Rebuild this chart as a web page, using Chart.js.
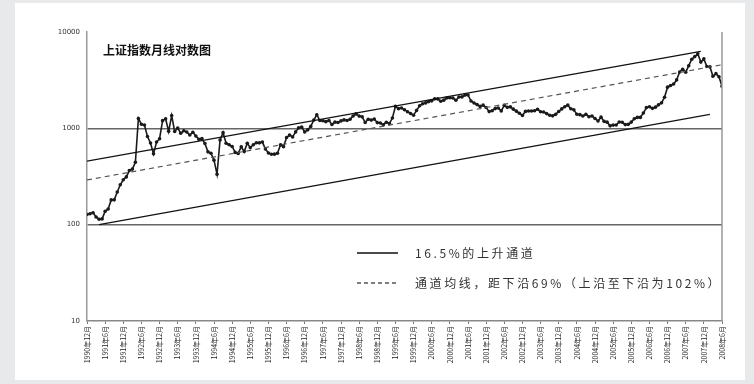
<!DOCTYPE html>
<html>
<head>
<meta charset="utf-8">
<script src="https://cdn.jsdelivr.net/npm/chart.js@4.4.0/dist/chart.umd.min.js"></script>
<style>
  html, body { margin: 0; padding: 0; background: #e8e9eb; }
  #panel { position: absolute; left: 15px; top: 3px; width: 730px; height: 377px; background: #fff; }
  canvas { display: block; }
</style>
</head>
<body>
<div id="panel"><canvas id="chart1" width="730" height="377"></canvas></div>
<script>
// 月线收盘 1990年12月 .. 2008年6月
const indexValues = [
  127.6,
  130.0, 133.0, 120.2, 113.9, 114.8, 137.6, 145.5, 180.8, 180.9, 218.6, 259.6, 292.8,
  313.2, 364.4, 377.5, 444.3, 1265.8, 1102.1, 1081.5, 822.5, 705.5, 543.6, 720.9, 780.4,
  1202.1, 1257.8, 929.9, 1358.8, 927.8, 1007.1, 890.4, 943.8, 914.5, 853.3, 911.3, 833.8,
  770.3, 782.4, 695.0, 570.3, 550.8, 467.2, 333.9, 756.8, 901.5, 701.3, 676.6, 647.9,
  562.6, 549.3, 644.5, 573.6, 700.5, 630.6, 675.1, 708.9, 706.4, 720.3, 609.6, 555.3,
  537.4, 539.3, 551.7, 675.9, 643.7, 804.4, 851.1, 813.8, 918.7, 1011.3, 1028.9, 917.0,
  964.8, 1047.0, 1217.4, 1385.1, 1205.0, 1199.1, 1172.7, 1206.5, 1097.3, 1160.3, 1150.2, 1194.1,
  1222.8, 1206.4, 1243.2, 1343.4, 1411.2, 1339.2, 1316.3, 1150.4, 1242.9, 1217.3, 1247.5, 1146.7,
  1134.7, 1090.1, 1158.1, 1120.9, 1279.3, 1689.4, 1601.5, 1627.8, 1556.7, 1488.7, 1427.8, 1366.6,
  1535.0, 1714.6, 1800.2, 1836.3, 1894.6, 1928.1, 2023.2, 2021.2, 1910.2, 1961.3, 2070.6, 2073.5,
  2065.6, 1959.2, 2112.8, 2119.2, 2214.3, 2218.0, 1920.3, 1834.1, 1764.2, 1689.9, 1740.9, 1646.0,
  1490.9, 1524.7, 1603.2, 1627.6, 1515.7, 1732.8, 1651.8, 1669.3, 1581.9, 1507.8, 1435.1, 1357.7,
  1499.8, 1511.9, 1510.7, 1521.4, 1576.3, 1486.0, 1476.7, 1421.9, 1367.2, 1348.3, 1397.2, 1497.0,
  1590.7, 1675.1, 1741.6, 1595.6, 1555.9, 1399.2, 1386.2, 1342.1, 1396.7, 1320.5, 1340.8, 1266.5,
  1191.8, 1306.0, 1181.2, 1159.2, 1060.7, 1080.9, 1083.0, 1162.8, 1155.6, 1092.8, 1099.3, 1161.1,
  1258.1, 1299.0, 1298.3, 1440.2, 1641.3, 1672.2, 1612.7, 1658.6, 1752.4, 1838.0, 2099.3, 2675.5,
  2786.3, 2881.1, 3184.0, 3841.3, 4109.7, 3820.7, 4471.0, 5218.8, 5552.3, 5954.8, 4871.8, 5261.6,
  4383.4, 4348.5, 3472.7, 3693.1, 3433.4, 2736.1
];

// 通道线端点 [月序号, 指数]
const upperChannel = [[0, 457], [203, 6300]];
const lowerChannel = [[4, 100], [206, 1394]];
const middleLine = [[0, 291], [210, 4570]];

const xTickLabels = [
  '1990年12月', '1991年6月', '1991年12月', '1992年6月', '1992年12月', '1993年6月',
  '1993年12月', '1994年6月', '1994年12月', '1995年6月', '1995年12月', '1996年6月',
  '1996年12月', '1997年6月', '1997年12月', '1998年6月', '1998年12月', '1999年6月',
  '1999年12月', '2000年6月', '2000年12月', '2001年6月', '2001年12月', '2002年6月',
  '2002年12月', '2003年6月', '2003年12月', '2004年6月', '2004年12月', '2005年6月',
  '2005年12月', '2006年6月', '2006年12月', '2007年6月', '2007年12月', '2008年6月'
];
const yTickValues = [10, 100, 1000, 10000];

const titleText = '上证指数月线对数图';
const legendSolid = '16.5%的上升通道';
const legendDashed = '通道均线，距下沿69%（上沿至下沿为102%）';

const toXY = arr => arr.map(p => ({ x: p[0], y: p[1] }));

// 图内标题、图例和右边框
const decorPlugin = {
  id: 'decor',
  afterDraw(chart) {
    const { ctx, chartArea: a } = chart;
    ctx.save();
    ctx.strokeStyle = '#999';
    ctx.lineWidth = 1.5;
    ctx.beginPath();
    ctx.moveTo(a.right, a.top);
    ctx.lineTo(a.right, a.bottom);
    ctx.stroke();

    ctx.fillStyle = '#111';
    ctx.textBaseline = 'middle';
    ctx.font = 'bold 12px "Noto Sans CJK SC"';
    ctx.fillText(titleText, a.left + 16, a.top + 18);

    ctx.font = '12px "Noto Sans CJK SC"';
    ctx.letterSpacing = '2.6px';
    ctx.fillStyle = '#333';
    ctx.strokeStyle = '#111';
    ctx.lineWidth = 1.3;
    ctx.beginPath();
    ctx.moveTo(342, 250);
    ctx.lineTo(383, 250);
    ctx.stroke();
    ctx.fillText(legendSolid, 400, 250);

    ctx.strokeStyle = '#555';
    ctx.setLineDash([4, 3]);
    ctx.beginPath();
    ctx.moveTo(342, 280);
    ctx.lineTo(383, 280);
    ctx.stroke();
    ctx.setLineDash([]);
    ctx.fillText(legendDashed, 400, 280);
    ctx.restore();
  }
};

const ctx = document.getElementById('chart1').getContext('2d');
new Chart(ctx, {
  type: 'line',
  data: {
    datasets: [
      {
        data: toXY(upperChannel),
        borderColor: '#111', borderWidth: 1.2, pointRadius: 0
      },
      {
        data: toXY(lowerChannel),
        borderColor: '#111', borderWidth: 1.2, pointRadius: 0
      },
      {
        data: toXY(middleLine),
        borderColor: '#555', borderWidth: 1.2, borderDash: [5, 4], pointRadius: 0
      },
      {
        data: indexValues.map((v, i) => ({ x: i, y: v })),
        borderColor: '#1a1a1a', borderWidth: 1.6,
        pointRadius: 1.8, pointBackgroundColor: '#1a1a1a', pointBorderWidth: 0
      }
    ]
  },
  options: {
    responsive: false,
    animation: false,
    layout: { padding: { left: 0, top: 29, right: 23, bottom: 0 } },
    plugins: { legend: { display: false }, tooltip: { enabled: false } },
    scales: {
      x: {
        type: 'linear',
        min: 0,
        max: 210,
        afterBuildTicks: axis => { axis.ticks = xTickLabels.map((l, i) => ({ value: i * 6 })); },
        afterFit: axis => { axis.height = 59; },
        ticks: {
          autoSkip: false,
          minRotation: 90,
          maxRotation: 90,
          padding: 2,
          color: '#222',
          font: { family: 'Noto Sans CJK SC', size: 7 },
          callback: (v, i) => xTickLabels[i]
        },
        grid: { drawOnChartArea: false, tickLength: 3, color: '#777' },
        border: { color: '#888', width: 1.5 }
      },
      y: {
        type: 'logarithmic',
        min: 10,
        max: 10000,
        afterBuildTicks: axis => { axis.ticks = yTickValues.map(v => ({ value: v })); },
        afterFit: axis => { axis.width = 72; },
        ticks: {
          padding: 7,
          color: '#333',
          font: { family: 'DejaVu Sans', size: 7 },
          callback: v => String(v)
        },
        grid: {
          color: c => (c.tick && (c.tick.value === 100 || c.tick.value === 1000)) ? '#666' : 'rgba(0,0,0,0)',
          lineWidth: 1.5,
          drawTicks: false
        },
        border: { color: '#999', width: 1.5 }
      }
    }
  },
  plugins: [decorPlugin]
});
</script>
</body>
</html>
